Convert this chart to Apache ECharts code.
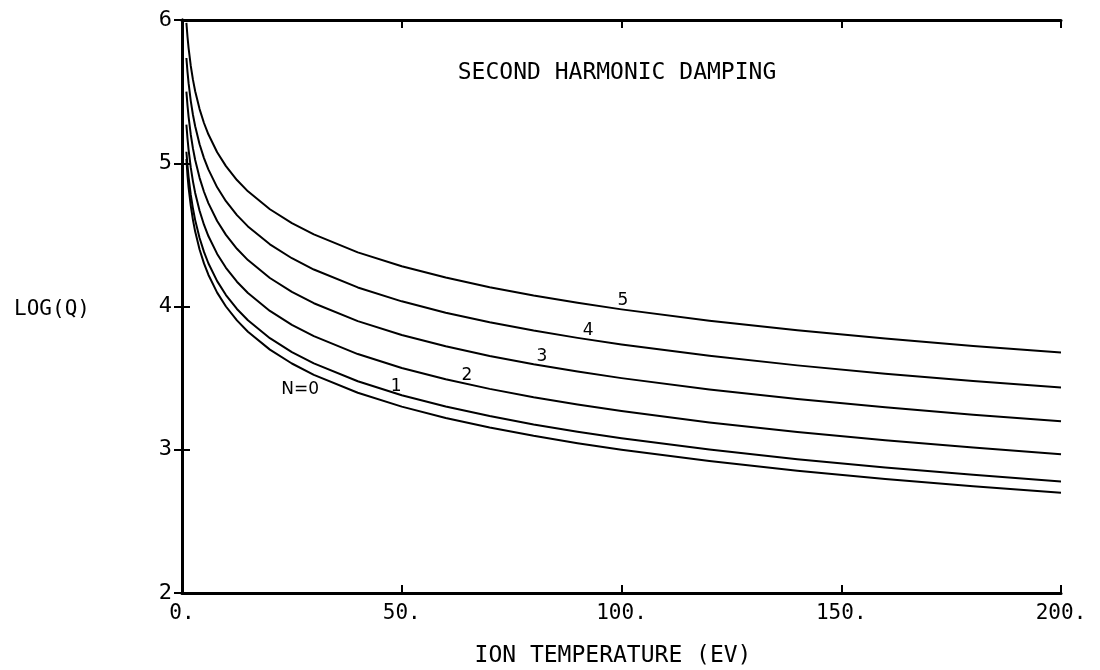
<!DOCTYPE html>
<html>
<head>
<meta charset="utf-8">
<script src="https://cdn.jsdelivr.net/npm/echarts@6/dist/echarts.min.js"></script>
<style>
html,body{margin:0;padding:0;background:#fff;}
#chart{width:1100px;height:670px;}
</style>
</head>
<body>
<div id="chart"></div>
<script>
// Ion temperature (eV) sample points
var temps = [1, 1.25, 1.5, 2, 2.5, 3, 4, 5, 6, 8, 10, 12.5, 15, 20, 25, 30, 40, 50, 60, 70, 80, 90, 100, 120, 140, 160, 180, 200];
// LOG(Q) for each N
var logQ_N5 = [5.980, 5.883, 5.804, 5.679, 5.582, 5.503, 5.378, 5.281, 5.202, 5.077, 4.980, 4.883, 4.804, 4.679, 4.582, 4.503, 4.378, 4.281, 4.202, 4.135, 4.077, 4.026, 3.980, 3.901, 3.834, 3.776, 3.725, 3.679];
var logQ_N4 = [5.735, 5.638, 5.559, 5.434, 5.337, 5.258, 5.133, 5.036, 4.957, 4.832, 4.735, 4.638, 4.559, 4.434, 4.337, 4.258, 4.133, 4.036, 3.957, 3.890, 3.832, 3.781, 3.735, 3.656, 3.589, 3.531, 3.480, 3.434];
var logQ_N3 = [5.500, 5.403, 5.324, 5.199, 5.102, 5.023, 4.898, 4.801, 4.722, 4.597, 4.500, 4.403, 4.324, 4.199, 4.102, 4.023, 3.898, 3.801, 3.722, 3.655, 3.597, 3.546, 3.500, 3.421, 3.354, 3.296, 3.245, 3.199];
var logQ_N2 = [5.270, 5.173, 5.094, 4.969, 4.872, 4.793, 4.668, 4.571, 4.492, 4.367, 4.270, 4.173, 4.094, 3.969, 3.872, 3.793, 3.668, 3.571, 3.492, 3.425, 3.367, 3.316, 3.270, 3.191, 3.124, 3.066, 3.015, 2.969];
var logQ_N1 = [5.080, 4.983, 4.904, 4.779, 4.682, 4.603, 4.478, 4.381, 4.302, 4.177, 4.080, 3.983, 3.904, 3.779, 3.682, 3.603, 3.478, 3.381, 3.302, 3.235, 3.177, 3.126, 3.080, 3.001, 2.934, 2.876, 2.825, 2.779];
var logQ_N0 = [5.030, 4.915, 4.830, 4.703, 4.603, 4.523, 4.398, 4.301, 4.222, 4.097, 4.000, 3.903, 3.824, 3.699, 3.602, 3.523, 3.398, 3.301, 3.222, 3.155, 3.097, 3.046, 3.000, 2.921, 2.854, 2.796, 2.745, 2.699];

// Curve annotations (text, T, LOG(Q))
var curveLabelText = ['N=0', '1', '2', '3', '4', '5'];
var curveLabelT    = [26.9, 48.7, 64.8, 81.9, 92.4, 100.3];
var curveLabelQ    = [3.42, 3.44, 3.52, 3.65, 3.83, 4.04];

var xTicks = [0, 50, 100, 150, 200];
var yTicks = [2, 3, 4, 5, 6];

var titleText = 'SECOND HARMONIC DAMPING';
var xName = 'ION TEMPERATURE (EV)';
var yName = 'LOG(Q)';

var FONT = 'DejaVu Sans Mono';

function pairs(ys) { return temps.map(function (t, i) { return [t, ys[i]]; }); }

var curves = [logQ_N0, logQ_N1, logQ_N2, logQ_N3, logQ_N4, logQ_N5];
var series = curves.map(function (ys, i) {
  return {
    type: 'line', xAxisIndex: 0, yAxisIndex: 0,
    data: pairs(ys), showSymbol: false, smooth: false,
    lineStyle: { color: '#000', width: 2, join: 'round' }, silent: true
  };
});
series.push({
  type: 'scatter', xAxisIndex: 0, yAxisIndex: 0, symbolSize: 1,
  itemStyle: { color: 'rgba(0,0,0,0)' },
  data: curveLabelText.map(function (s, i) { return { name: s, value: [curveLabelT[i], curveLabelQ[i]] }; }),
  label: { show: true, position: 'inside', formatter: function (p) { return p.name; },
           color: '#000', opacity: 1, textBorderWidth: 0, textShadowBlur: 0,
           fontFamily: 'DejaVu Sans', fontSize: 17 },
  silent: true
});

var axisCommon = {
  axisLine: { show: true, lineStyle: { color: '#000', width: 3 } },
  axisTick: { show: true, inside: true, length: 8, lineStyle: { color: '#000', width: 2 } },
  splitLine: { show: false }
};

var option = {
  animation: false,
  backgroundColor: '#fff',
  grid: { left: 182, right: 39, top: 20, bottom: 77, containLabel: false },
  xAxis: [
    Object.assign({ type: 'value', position: 'bottom', min: 0, max: 200, interval: 50,
      axisLabel: { color: '#000', fontFamily: FONT, fontSize: 21, margin: 10,
        formatter: function (v) { return v + '.'; } } }, axisCommon),
    Object.assign({ type: 'value', position: 'top', min: 0, max: 200, interval: 50,
      axisLabel: { show: false } }, axisCommon)
  ],
  yAxis: [
    Object.assign({ type: 'value', position: 'left', min: 2, max: 6, interval: 1,
      axisLabel: { color: '#000', fontFamily: FONT, fontSize: 22, margin: 10 } }, axisCommon),
    Object.assign({ type: 'value', position: 'right', min: 2, max: 6, interval: 1,
      axisLabel: { show: false } }, axisCommon)
  ],
  graphic: [
    { type: 'text', x: 617, y: 73, style: { text: titleText, fill: '#000', font: '23px "' + FONT + '"', textAlign: 'center', textVerticalAlign: 'middle' } },
    { type: 'text', x: 613, y: 656, style: { text: xName, fill: '#000', font: '23px "' + FONT + '"', textAlign: 'center', textVerticalAlign: 'middle' } },
    { type: 'text', x: 52, y: 310, style: { text: yName, fill: '#000', font: '21px "' + FONT + '"', textAlign: 'center', textVerticalAlign: 'middle' } }
  ],
  series: series
};

var chart = echarts.init(document.getElementById('chart'), null, { renderer: 'canvas' });
chart.setOption(option);
</script>
</body>
</html>
